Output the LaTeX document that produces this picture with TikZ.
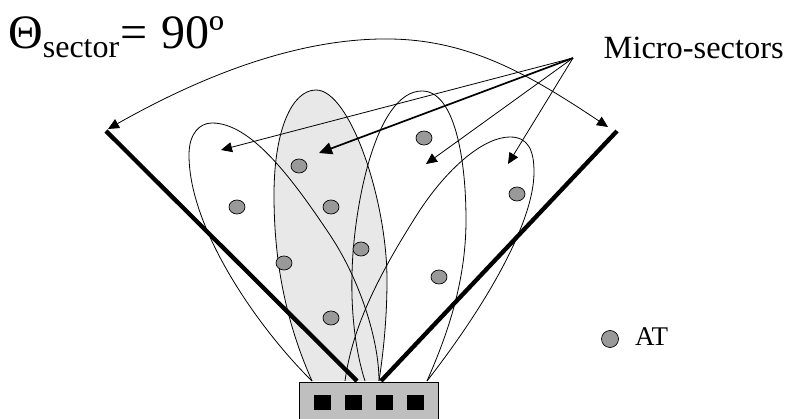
\documentclass[tikz,border=0pt]{standalone}
\usepackage{fontspec}
\setmainfont{Liberation Serif}
\usetikzlibrary{arrows.meta,shapes.geometric}
\definecolor{dotgray}{gray}{0.6}
\definecolor{lobegray}{gray}{0.91}
\definecolor{boxgray}{gray}{0.75}
\tikzset{
  lobe/.style={draw=black,line width=0.8pt},
  wall/.style={draw=black,line width=4.3pt},
  ptr/.style={draw=black,line width=0.8pt,-{Triangle[length=11pt,width=10pt]}},
  ptrbold/.style={draw=black,line width=1.7pt,-{Triangle[length=13pt,width=12pt]}},
  user/.style={ellipse,draw=black,fill=dotgray,line width=0.7pt,minimum width=16pt,minimum height=14pt,inner sep=0pt},
  elem/.style={rectangle,fill=black,minimum width=17pt,minimum height=15pt,inner sep=0pt,anchor=north west},
  lbl/.style={inner sep=0pt,anchor=base west}
}
\begin{document}
\begin{tikzpicture}[x=1pt,y=-1pt]
\useasboundingbox (0,0) rectangle (787,419);
\fill[white] (0,0) rectangle (787,419);
% shaded lobe
\draw[lobe,fill=lobegray] (312,381) .. controls (285,320) and (274,260) .. (274,195) .. controls (274,130) and (292,90) .. (316,90) .. controls (350,90) and (387,200) .. (387,280) .. controls (387,320) and (383,355) .. (379,381);
% other lobes
\draw[lobe] (312,381) .. controls (260,330) and (189,230) .. (189,155) .. controls (189,133) and (200,123) .. (212,123) .. controls (250,123) and (290,175) .. (330,235) .. controls (360,280) and (379,340) .. (379,381);
\draw[lobe] (365,381) .. controls (355,350) and (351,310) .. (352,275) .. controls (353,210) and (375,91) .. (422,91) .. controls (455,91) and (466,160) .. (466,220) .. controls (466,285) and (445,340) .. (427,381);
\draw[lobe] (345,381) .. controls (352,330) and (375,280) .. (420,210) .. controls (450,165) and (485,137) .. (510,137) .. controls (528,137) and (534,150) .. (534,172) .. controls (534,220) and (490,300) .. (427,381);
% walls
\coordinate (wl) at (106,131);
\coordinate (wr) at (617,131);
\coordinate (wlb) at (357,381);
\coordinate (wrb) at (381,381);
\draw[wall] (wl) -- (wlb);
\draw[wall] (wr) -- (wrb);
% sector arc
\coordinate (al) at (108,129);
\coordinate (ar) at (608,127);
\draw[ptr,{Triangle[length=11pt,width=10pt]}-{Triangle[length=11pt,width=10pt]}] (al) .. controls (230,60) and (320,38) .. (390,39) .. controls (470,40) and (530,75) .. (ar);
% micro-sector pointers
\coordinate (hub) at (573,58);
\coordinate (t1) at (221,150);
\coordinate (t2) at (319,153);
\coordinate (t3) at (426,164);
\coordinate (t4) at (508,164);
\draw[ptr] (hub) -- (t1);
\draw[ptrbold] (hub) -- (t2);
\draw[ptr] (hub) -- (t3);
\draw[ptr] (hub) -- (t4);
% users
\node[user] (u1) at (237,207) {};
\node[user] (u2) at (299,166) {};
\node[user] (u3) at (331,207) {};
\node[user] (u4) at (361,249) {};
\node[user] (u5) at (284,263) {};
\node[user] (u6) at (331,318) {};
\node[user] (u7) at (424,138) {};
\node[user] (u8) at (517,194) {};
\node[user] (u9) at (439,277) {};
\node[user,minimum width=17pt,minimum height=17pt] (leg) at (610,339) {};
% array
\node[draw=black,fill=boxgray,line width=1pt,rectangle,anchor=north west,minimum width=139.5pt,minimum height=40pt,inner sep=0pt] (bs) at (298.5,382) {};
\node[elem] (e1) at (313.3,395) {};
\node[elem] (e2) at (344.3,395) {};
\node[elem] (e3) at (375.5,395) {};
\node[elem] (e4) at (406.5,395) {};
% labels
\node[lbl,font=\fontsize{48}{48}\selectfont] (th) at (8,49) {Θ\raisebox{-9pt}{\fontsize{32}{32}\selectfont sector}\kern1pt=\kern14pt{}90º};
\node[lbl,font=\fontsize{32.4}{32.4}\selectfont] (ms) at (603.5,59) {Micro-sectors};
\node[lbl,font=\fontsize{27}{27}\selectfont] (at) at (635,346) {AT};
\end{tikzpicture}
\end{document}
